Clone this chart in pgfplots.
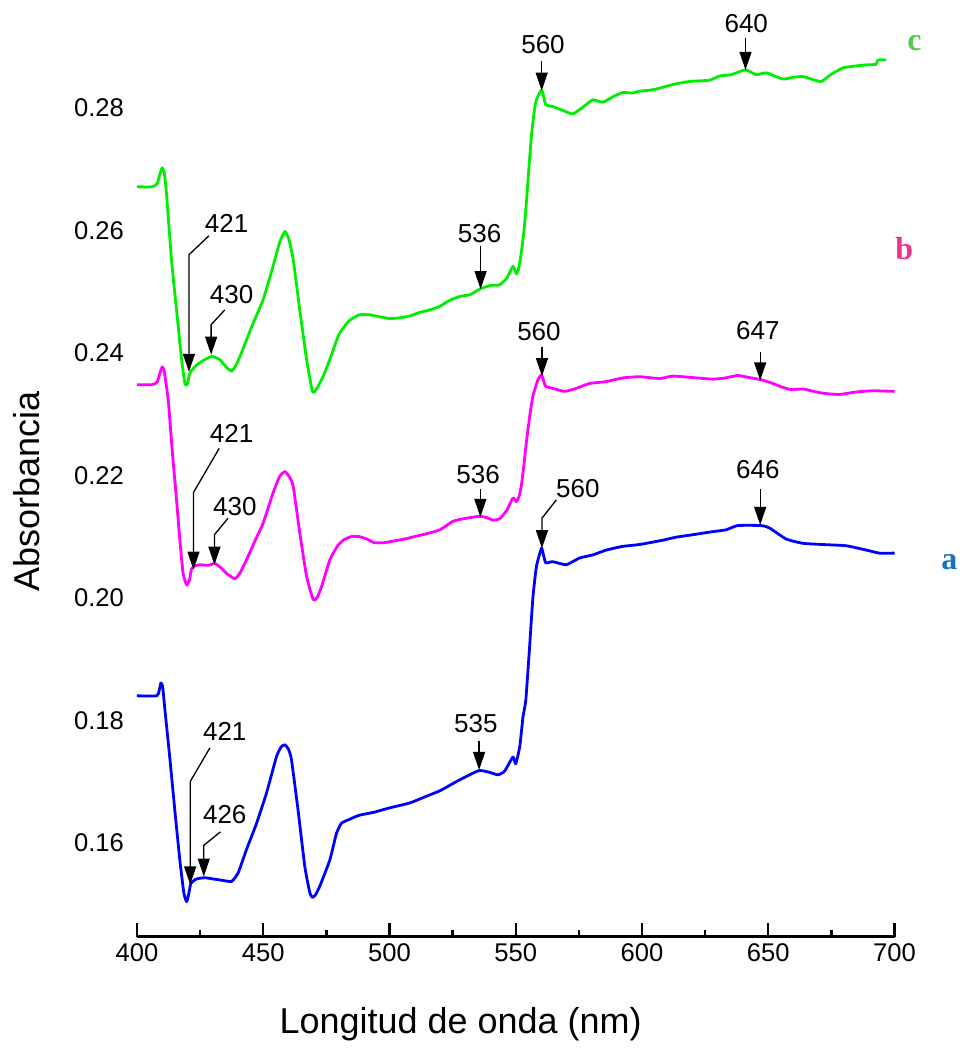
\documentclass[border=0pt]{standalone}
\usepackage{fontspec}
\setmainfont{Liberation Sans}
\newfontfamily\serifb{Liberation Serif}
\usepackage{pgfplots}
\pgfplotsset{compat=1.18}
\usetikzlibrary{arrows.meta}
\definecolor{cgreen}{RGB}{0,238,0}
\definecolor{cmag}{RGB}{255,0,255}
\definecolor{cblue}{RGB}{0,0,255}
\definecolor{lc}{RGB}{85,200,75}
\definecolor{lb}{RGB}{235,50,140}
\definecolor{la}{RGB}{20,115,190}
\begin{document}
\begin{tikzpicture}[
  arr/.style={black, line width=0.65pt, -{Triangle[length=9pt,width=6pt]}},
  lbl/.style={font=\fontsize{13}{15}\selectfont, inner sep=0pt}]
\begin{axis}[
  scale only axis, width=379pt, height=468.5pt,
  xmin=400, xmax=700, ymin=0.1447, ymax=0.2976,
  axis x line*=bottom, axis y line*=left,
  y axis line style={draw=none}, ytick style={draw=none},
  x axis line style={line width=1.3pt},
  xtick={400,450,...,700}, minor x tick num=1,
  xtick align=inside, major tick length=7pt, minor tick length=3.5pt,
  xtick style={line width=1.2pt, black},
  ytick={0.16,0.18,0.20,0.22,0.24,0.26,0.28},
  yticklabel style={/pgf/number format/.cd, fixed, fixed zerofill, precision=2, /tikz/.cd, xshift=-3pt},
  /pgf/number format/assume math mode=true,
  ticklabel style={font=\fontsize{12.8}{14}\selectfont},
  xlabel={Longitud de onda (nm)}, ylabel={Absorbancia},
  label style={font=\fontsize{18}{21}\selectfont},
  xlabel style={at={(axis description cs:0.4274,-0.094)}, anchor=center},
  ylabel style={at={(axis description cs:-0.145,0.475)}, anchor=center},
  clip=false,
  every axis plot/.append style={line width=1.4pt, line join=round, smooth, tension=0.3},
]
% c (green)
\addplot[cgreen] coordinates {
(400,0.2671)(406,0.2671)(408,0.2676)(409,0.2690)(410,0.2702)(410.8,0.2695)(411.7,0.2661)
(413.7,0.2552)(415.7,0.2470)(417.7,0.2389)(419.0,0.2350)(419.9,0.2348)(421.0,0.2367)
(423.6,0.2380)(426.5,0.2388)(429.6,0.2394)(432.8,0.2389)(435.5,0.2376)(437.5,0.2370)
(439.0,0.2378)(440.8,0.2394)(443.5,0.2422)(446.0,0.2448)(450.0,0.2487)(453.9,0.2541)
(456.5,0.2580)(458.6,0.2598)(460.2,0.2585)(461.9,0.2552)(464.5,0.2470)(467.2,0.2389)
(469.5,0.2337)(471.0,0.2340)(473.7,0.2361)(476.4,0.2389)(480.0,0.2430)(484.0,0.2452)
(488.0,0.2462)(492.0,0.2462)(496.0,0.2459)(500.0,0.2456)(504.0,0.2457)(508.0,0.2460)
(512.0,0.2466)(516.0,0.2470)(520.0,0.2476)(524.0,0.2486)(527.8,0.2492)(532.0,0.2495)
(535.7,0.2504)(540.0,0.2510)(543.6,0.2511)(546.5,0.2522)(548.9,0.2541)(550.3,0.2529)
(551.3,0.2540)(552.2,0.2563)(553.3,0.2600)(554.2,0.2644)(555.2,0.2700)(556.2,0.2753)
(557.2,0.2790)(558.2,0.2813)(560.2,0.2829)(561.0,0.2820)(561.9,0.2805)(564.7,0.2802)
(568.5,0.2796)(572.6,0.2790)(576.6,0.2801)(580.5,0.2813)(584.5,0.2809)(588.5,0.2818)
(592.4,0.2825)(596.0,0.2824)(599.0,0.2827)(605.0,0.2830)(612.2,0.2838)(618.8,0.2843)
(626.7,0.2845)(630.7,0.2852)(635.3,0.2854)(641.0,0.2862)(645.2,0.2854)(649.2,0.2857)
(655.8,0.2847)(660.0,0.2850)(663.7,0.2851)(667.0,0.2847)(671.0,0.2843)(675.0,0.2855)
(679.5,0.2865)(684.0,0.2868)(688.8,0.2870)(692.7,0.2871)(693.4,0.2878)(696.7,0.2878)
};
% b (magenta)
\addplot[cmag] coordinates {
(400,0.2348)(406,0.2348)(408,0.2352)(409,0.2365)(410,0.2377)(410.8,0.2370)(412.4,0.2323)
(414.0,0.2240)(415.7,0.2160)(417.0,0.2095)(418.3,0.2040)(419.7,0.2021)(420.8,0.2029)
(421.6,0.2047)(423.0,0.2052)(424.9,0.2054)(428.2,0.2053)(430.9,0.2056)(433.0,0.2050)
(435.5,0.2040)(438.8,0.2031)(441.0,0.2042)(443.4,0.2062)(447.0,0.2095)(450.0,0.2122)
(453.9,0.2171)(456.5,0.2198)(458.6,0.2206)(460.3,0.2198)(461.9,0.2182)(464.5,0.2106)
(467.2,0.2035)(469.8,0.1997)(471.3,0.2000)(473.1,0.2018)(476.4,0.2062)(479.5,0.2085)
(482.0,0.2095)(485.0,0.2100)(488.0,0.2100)(491.0,0.2096)(494.0,0.2090)(498.0,0.2090)
(502.0,0.2093)(506.0,0.2096)(510.0,0.2100)(515.0,0.2105)(520.0,0.2111)(525.2,0.2125)
(530.5,0.2130)(535.7,0.2133)(538.5,0.2131)(541.0,0.2127)(543.6,0.2129)(546.5,0.2143)
(548.9,0.2163)(550.3,0.2157)(551.3,0.2165)(552.2,0.2182)(553.2,0.2215)(554.2,0.2253)
(555.5,0.2295)(556.8,0.2329)(558.8,0.2356)(560.2,0.2364)(561.0,0.2355)(561.9,0.2345)
(564.7,0.2342)(569.4,0.2337)(574.0,0.2342)(579.3,0.2350)(585.9,0.2353)(592.4,0.2359)
(599.0,0.2361)(606.9,0.2358)(612.2,0.2362)(618.8,0.2360)(628.0,0.2357)(633.0,0.2359)
(637.9,0.2363)(642.0,0.2360)(647.2,0.2356)(651.8,0.2350)(655.5,0.2344)(659.0,0.2340)
(663.7,0.2341)(667.0,0.2338)(670.3,0.2335)(674.0,0.2333)(678.2,0.2332)(684.8,0.2336)
(691.4,0.2338)(700.0,0.2337)
};
% a (blue)
\addplot[cblue] coordinates {
(400,0.1840)(407.8,0.1840)(408.8,0.1848)(409.5,0.1861)(410.2,0.1855)(411.1,0.1817)
(413.1,0.1736)(415.0,0.1654)(417.0,0.1572)(418.6,0.1518)(419.7,0.1504)(420.6,0.1518)
(421.4,0.1534)(423.6,0.1541)(426.9,0.1543)(430.2,0.1541)(433.5,0.1539)(437.5,0.1537)
(440.1,0.1551)(443.4,0.1589)(447.4,0.1632)(451.3,0.1681)(455.3,0.1741)(457.2,0.1757)
(458.6,0.1760)(460.0,0.1753)(461.2,0.1736)(463.8,0.1654)(466.5,0.1561)(468.5,0.1518)
(469.5,0.1511)(470.7,0.1515)(472.4,0.1529)(476.4,0.1572)(479.0,0.1615)(481.0,0.1632)
(484.0,0.1638)(488.0,0.1645)(494.0,0.1650)(500.0,0.1657)(508.0,0.1665)(514.0,0.1675)
(520.0,0.1685)(525.2,0.1697)(529.8,0.1707)(535.5,0.1718)(539.7,0.1715)(543.0,0.1711)
(545.6,0.1717)(548.9,0.1740)(550.0,0.1729)(551.6,0.1757)(552.9,0.1806)(554.0,0.1833)
(555.5,0.1920)(556.8,0.2000)(558.2,0.2051)(560.2,0.2081)(561.0,0.2070)(561.9,0.2057)
(564.7,0.2059)(570.0,0.2054)(575.3,0.2065)(580.5,0.2070)(585.9,0.2078)(592.4,0.2084)
(599.0,0.2087)(608.2,0.2094)(613.5,0.2099)(620.1,0.2103)(628.0,0.2108)(633.3,0.2111)
(637.9,0.2118)(647.2,0.2118)(650.5,0.2114)(657.1,0.2096)(663.7,0.2089)(671.6,0.2087)
(680.8,0.2085)(688.8,0.2078)(694.0,0.2073)(700.0,0.2073)
};
% annotations: green
\node[lbl] at (axis cs:435.5,0.2612) {421};
\draw[arr] (axis cs:428.5,0.2591) -- (axis cs:420.6,0.2560) -- (axis cs:420.6,0.2369);
\node[lbl] at (axis cs:437.5,0.2495) {430};
\draw[arr] (axis cs:434.8,0.2470) -- (axis cs:429.4,0.2446) -- (axis cs:429.4,0.2397);
\node[lbl] at (axis cs:535.7,0.2595) {536};
\draw[arr] (axis cs:536.1,0.2574) -- (axis cs:536.1,0.2504);
\node[lbl] at (axis cs:560.8,0.2903) {560};
\draw[arr] (axis cs:560.3,0.2876) -- (axis cs:560.3,0.2828);
\node[lbl] at (axis cs:641.3,0.2938) {640};
\draw[arr] (axis cs:641.0,0.2914) -- (axis cs:641.0,0.2862);
% annotations: magenta
\node[lbl] at (axis cs:437.5,0.2269) {421};
\draw[arr] (axis cs:432.6,0.2244) -- (axis cs:422.4,0.2172) -- (axis cs:422.4,0.2046);
\node[lbl] at (axis cs:438.8,0.2149) {430};
\draw[arr] (axis cs:436.1,0.2130) -- (axis cs:430.7,0.2103) -- (axis cs:430.7,0.2054);
\node[lbl] at (axis cs:535.1,0.2201) {536};
\draw[arr] (axis cs:536.0,0.2177) -- (axis cs:536.0,0.2132);
\node[lbl] at (axis cs:559.2,0.2435) {560};
\draw[arr] (axis cs:560.4,0.2410) -- (axis cs:560.4,0.2362);
\node[lbl] at (axis cs:645.9,0.2437) {647};
\draw[arr] (axis cs:646.8,0.2402) -- (axis cs:646.8,0.2355);
% annotations: blue
\node[lbl] at (axis cs:434.8,0.1782) {421};
\draw[arr] (axis cs:428.9,0.1755) -- (axis cs:421.1,0.1700) -- (axis cs:421.1,0.1532);
\node[lbl] at (axis cs:434.8,0.1646) {426};
\draw[arr] (axis cs:433.1,0.1618) -- (axis cs:426.5,0.1596) -- (axis cs:426.5,0.1545);
\node[lbl] at (axis cs:534.2,0.1795) {535};
\draw[arr] (axis cs:535.5,0.1767) -- (axis cs:535.5,0.1719);
\node[lbl] at (axis cs:574.6,0.2179) {560};
\draw[arr] (axis cs:566.1,0.2160) -- (axis cs:560.4,0.2130) -- (axis cs:560.4,0.2081);
\node[lbl] at (axis cs:645.9,0.2209) {646};
\draw[arr] (axis cs:646.8,0.2177) -- (axis cs:646.8,0.2119);
% curve letters
\node[font=\serifb\bfseries\fontsize{16}{18}\selectfont, text=lc] at (axis cs:707.9,0.2906) {c};
\node[font=\serifb\bfseries\fontsize{16}{18}\selectfont, text=lb] at (axis cs:703.9,0.2571) {b};
\node[font=\serifb\bfseries\fontsize{16}{18}\selectfont, text=la] at (axis cs:721.7,0.2059) {a};
% fix the picture's extent to the reference frame
\path (axis description cs:-0.1807,-0.1185) (axis description cs:1.0897,1);
\end{axis}
\end{tikzpicture}
\end{document}
